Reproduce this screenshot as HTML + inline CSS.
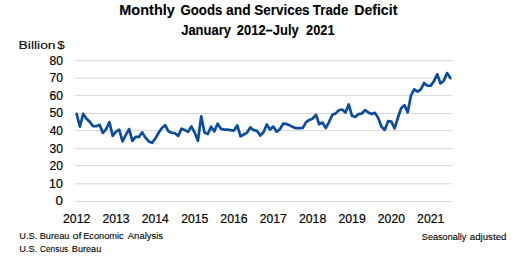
<!DOCTYPE html>
<html><head><meta charset="utf-8"><style>
html,body{margin:0;padding:0;background:#fff;width:519px;height:263px;overflow:hidden}
svg{display:block}
text{font-family:"Liberation Sans",sans-serif;fill:#000;stroke:#000;stroke-width:0.2px}
</style></head><body>
<svg width="519" height="263" viewBox="0 0 519 263">
<g stroke="#d9d9d9" stroke-width="1" fill="none"><line x1="75" y1="201.50" x2="452" y2="201.50"/><line x1="75" y1="183.85" x2="452" y2="183.85"/><line x1="75" y1="165.60" x2="452" y2="165.60"/><line x1="75" y1="148.60" x2="452" y2="148.60"/><line x1="75" y1="130.60" x2="452" y2="130.60"/><line x1="75" y1="113.50" x2="452" y2="113.50"/><line x1="75" y1="95.40" x2="452" y2="95.40"/><line x1="75" y1="78.30" x2="452" y2="78.30"/><line x1="75" y1="60.60" x2="452" y2="60.60"/></g>
<text x="119.30" y="14.90" font-size="14.30px" font-weight="bold" textLength="55.52" lengthAdjust="spacingAndGlyphs" style="stroke-width:0.1px">Monthly</text>
<text x="180.50" y="14.90" font-size="14.30px" font-weight="bold" textLength="41.83" lengthAdjust="spacingAndGlyphs" style="stroke-width:0.1px">Goods</text>
<text x="226.00" y="14.90" font-size="14.30px" font-weight="bold" textLength="24.63" lengthAdjust="spacingAndGlyphs" style="stroke-width:0.1px">and</text>
<text x="254.20" y="14.90" font-size="14.30px" font-weight="bold" textLength="55.42" lengthAdjust="spacingAndGlyphs" style="stroke-width:0.1px">Services</text>
<text x="312.85" y="14.90" font-size="14.30px" font-weight="bold" textLength="35.47" lengthAdjust="spacingAndGlyphs" style="stroke-width:0.1px">Trade</text>
<text x="354.20" y="14.90" font-size="14.30px" font-weight="bold" textLength="43.18" lengthAdjust="spacingAndGlyphs" style="stroke-width:0.1px">Deficit</text>
<text x="181.15" y="34.50" font-size="14.00px" font-weight="bold" textLength="49.91" lengthAdjust="spacingAndGlyphs" style="stroke-width:0.1px">January</text>
<text x="236.80" y="34.50" font-size="14.00px" font-weight="bold" textLength="61.96" lengthAdjust="spacingAndGlyphs" style="stroke-width:0.1px">2012–July</text>
<text x="306.10" y="34.50" font-size="14.00px" font-weight="bold" textLength="28.47" lengthAdjust="spacingAndGlyphs" style="stroke-width:0.1px">2021</text>
<text x="18.55" y="48.90" font-size="10.80px" textLength="37.02" lengthAdjust="spacingAndGlyphs" style="stroke-width:0.1px">Billion</text>
<text x="57.15" y="48.90" font-size="10.80px" textLength="7.44" lengthAdjust="spacingAndGlyphs" style="stroke-width:0.1px">$</text>
<text x="19.25" y="239.00" font-size="9.70px" textLength="18.05" lengthAdjust="spacingAndGlyphs" style="stroke-width:0.1px">U.S.</text>
<text x="39.75" y="239.00" font-size="9.70px" textLength="29.61" lengthAdjust="spacingAndGlyphs" style="stroke-width:0.1px">Bureau</text>
<text x="72.60" y="239.00" font-size="9.70px" textLength="9.05" lengthAdjust="spacingAndGlyphs" style="stroke-width:0.1px">of</text>
<text x="83.15" y="239.00" font-size="9.70px" textLength="40.62" lengthAdjust="spacingAndGlyphs" style="stroke-width:0.1px">Economic</text>
<text x="127.80" y="239.00" font-size="9.70px" textLength="35.26" lengthAdjust="spacingAndGlyphs" style="stroke-width:0.1px">Analysis</text>
<text x="19.25" y="251.60" font-size="9.70px" textLength="18.05" lengthAdjust="spacingAndGlyphs" style="stroke-width:0.1px">U.S.</text>
<text x="40.00" y="251.60" font-size="9.70px" textLength="28.17" lengthAdjust="spacingAndGlyphs" style="stroke-width:0.1px">Census</text>
<text x="71.85" y="251.60" font-size="9.70px" textLength="29.41" lengthAdjust="spacingAndGlyphs" style="stroke-width:0.1px">Bureau</text>
<text x="421.80" y="239.90" font-size="9.70px" textLength="44.61" lengthAdjust="spacingAndGlyphs" style="stroke-width:0.1px">Seasonally</text>
<text x="469.80" y="239.90" font-size="9.70px" textLength="36.63" lengthAdjust="spacingAndGlyphs" style="stroke-width:0.1px">adjusted</text>
<text x="63.04" y="222.63" font-size="12.81px" textLength="27.32" lengthAdjust="spacingAndGlyphs">2012</text>
<text x="102.49" y="222.63" font-size="12.81px" textLength="27.04" lengthAdjust="spacingAndGlyphs">2013</text>
<text x="141.68" y="222.63" font-size="12.81px" textLength="27.05" lengthAdjust="spacingAndGlyphs">2014</text>
<text x="181.13" y="222.88" font-size="12.79px" textLength="27.05" lengthAdjust="spacingAndGlyphs">2015</text>
<text x="220.32" y="222.63" font-size="12.81px" textLength="27.30" lengthAdjust="spacingAndGlyphs">2016</text>
<text x="259.77" y="222.63" font-size="12.81px" textLength="27.06" lengthAdjust="spacingAndGlyphs">2017</text>
<text x="298.97" y="222.63" font-size="12.81px" textLength="27.31" lengthAdjust="spacingAndGlyphs">2018</text>
<text x="338.41" y="222.63" font-size="12.81px" textLength="27.31" lengthAdjust="spacingAndGlyphs">2019</text>
<text x="377.86" y="222.63" font-size="12.81px" textLength="27.05" lengthAdjust="spacingAndGlyphs">2020</text>
<text x="417.05" y="222.63" font-size="12.81px" textLength="27.32" lengthAdjust="spacingAndGlyphs">2021</text>
<text x="55.60" y="205.37" font-size="13.16px" textLength="7.45" lengthAdjust="spacingAndGlyphs">0</text>
<text x="49.00" y="188.27" font-size="12.08px" textLength="13.78" lengthAdjust="spacingAndGlyphs">10</text>
<text x="49.50" y="169.78" font-size="12.80px" textLength="13.48" lengthAdjust="spacingAndGlyphs">20</text>
<text x="49.50" y="153.37" font-size="13.16px" textLength="13.48" lengthAdjust="spacingAndGlyphs">30</text>
<text x="49.75" y="135.27" font-size="12.08px" textLength="13.20" lengthAdjust="spacingAndGlyphs">40</text>
<text x="49.50" y="117.07" font-size="12.79px" textLength="13.48" lengthAdjust="spacingAndGlyphs">50</text>
<text x="49.50" y="100.28" font-size="12.08px" textLength="13.48" lengthAdjust="spacingAndGlyphs">60</text>
<text x="49.50" y="81.73" font-size="12.81px" textLength="13.48" lengthAdjust="spacingAndGlyphs">70</text>
<text x="49.50" y="64.87" font-size="12.08px" textLength="13.48" lengthAdjust="spacingAndGlyphs">80</text>

<polyline points="76.64,113.92 79.92,126.59 83.20,113.92 86.47,118.67 89.75,121.83 93.03,126.06 96.31,126.23 99.59,124.83 102.86,132.92 106.14,129.05 109.42,122.19 112.70,135.91 115.98,131.69 119.25,129.75 122.53,141.28 125.81,134.86 129.09,129.05 132.37,140.93 135.64,136.97 138.92,136.97 142.20,132.39 145.48,137.67 148.76,141.45 152.03,142.86 155.31,138.55 158.59,132.74 161.87,127.99 165.15,125.18 168.42,131.34 171.70,132.74 174.98,133.27 178.26,135.91 181.54,128.70 184.81,130.10 188.09,131.86 191.37,126.41 194.65,132.57 197.93,140.84 201.20,116.38 204.48,132.57 207.76,133.98 211.04,126.76 214.32,131.34 217.59,123.77 220.87,128.70 224.15,129.58 227.43,129.58 230.71,130.10 233.98,130.54 237.26,125.44 240.54,136.26 243.82,134.50 247.10,132.57 250.37,127.46 253.65,130.10 256.93,130.81 260.21,135.56 263.49,132.22 266.76,124.47 270.04,129.58 273.32,126.59 276.60,131.69 279.88,129.22 283.15,123.59 286.43,123.95 289.71,125.35 292.99,127.11 296.27,128.17 299.54,128.17 302.82,127.82 306.10,122.19 309.38,119.90 312.66,118.49 315.93,114.80 319.21,124.30 322.49,122.54 325.77,128.17 329.05,122.01 332.32,114.80 335.60,113.39 338.88,110.22 342.16,109.52 345.44,112.51 348.71,104.41 351.99,115.85 355.27,117.08 358.55,114.09 361.83,113.56 365.10,110.22 368.38,112.51 371.66,114.09 374.94,112.86 378.22,117.96 381.49,126.76 384.77,129.93 388.05,121.13 391.33,121.66 394.61,128.34 397.88,117.79 401.16,108.29 404.44,105.12 407.72,112.33 411.00,95.44 414.27,89.28 417.55,91.57 420.83,89.28 424.11,82.95 427.39,85.76 430.66,85.59 433.94,81.19 437.22,74.32 440.50,83.47 443.78,80.66 447.05,73.09 450.33,78.02" fill="none" stroke="#0b4c9c" stroke-width="2.7" stroke-linejoin="round" stroke-linecap="round"/>
</svg>
</body></html>
